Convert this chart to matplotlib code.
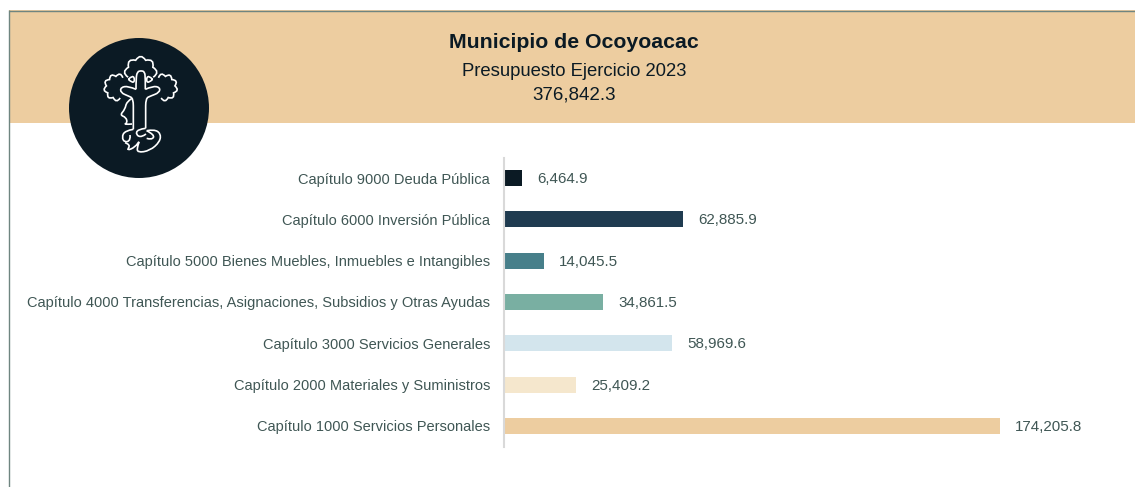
import numpy as np
import matplotlib
matplotlib.use("Agg")
import matplotlib.pyplot as plt
from matplotlib.patches import Circle, Rectangle, PathPatch
from matplotlib.path import Path

plt.rcParams['font.family'] = ['Liberation Sans', 'DejaVu Sans']

W, H = 1135, 487

# data, top row first
categories = ["Capítulo 9000 Deuda Pública", "Capítulo 6000 Inversión Pública",
              "Capítulo 5000 Bienes Muebles, Inmuebles e Intangibles",
              "Capítulo 4000 Transferencias, Asignaciones, Subsidios y Otras Ayudas",
              "Capítulo 3000 Servicios Generales", "Capítulo 2000 Materiales y Suministros",
              "Capítulo 1000 Servicios Personales"]
values = [6464.9, 62885.9, 14045.5, 34861.5, 58969.6, 25409.2, 174205.8]
bar_colors = ["#0B1A24", "#1F3B50", "#477F8A", "#79AFA2", "#D3E5ED", "#F5E7CD", "#EDCDA0"]

title = "Municipio de Ocoyoacac"
subtitle = "Presupuesto Ejercicio 2023"
total = "376,842.3"

BAND = "#EDCDA0"
DARK = "#0B1A24"
TXT = "#3F5654"

fig = plt.figure(figsize=(W/100, H/100), dpi=100)

# background layer in pixel coords
bg = fig.add_axes([0, 0, 1, 1])
bg.set_xlim(0, W)
bg.set_ylim(H, 0)
bg.axis("off")
bg.add_patch(Rectangle((9, 10), W-9, 113, fc=BAND, ec="none"))
bg.plot([8.5, 8.5], [10, H], color="#6F8580", lw=1.0, solid_capstyle="butt")
bg.plot([8.5, W], [10.5, 10.5], color="#6F8580", lw=1.0, solid_capstyle="butt")
bg.text(574, 43, title, ha="center", va="center", fontsize=15.3, fontweight="bold", color=DARK)
bg.text(574, 71, subtitle, ha="center", va="center", fontsize=13.35, color=DARK)
bg.text(574, 95, total, ha="center", va="center", fontsize=13.5, color=DARK)

# logo
bg.add_patch(Circle((139, 108), 70, fc=DARK, ec="none", zorder=3))


def smooth(pts):
    pts = [(x/3, y/3) for x, y in pts]
    verts = [pts[0]]
    codes = [Path.MOVETO]
    for i in range(1, len(pts)-1):
        mid = ((pts[i][0]+pts[i+1][0])/2, (pts[i][1]+pts[i+1][1])/2)
        if i == len(pts)-2:
            mid = pts[-1]
        verts += [pts[i], mid]
        codes += [Path.CURVE3, Path.CURVE3]
    return Path(verts, codes)


def crown(cx, cy, r, a0, a1, n):
    # scalloped tree crown, one bump per step
    ang = np.radians(np.linspace(a0, a1, n+1))
    verts = [(cx/3+r/3*np.cos(ang[0]), cy/3-r/3*np.sin(ang[0]))]
    codes = [Path.MOVETO]
    for a, b in zip(ang[:-1], ang[1:]):
        m = (a+b)/2
        verts.append((cx/3+1.5*r/3*np.cos(m), cy/3-1.5*r/3*np.sin(m)))
        verts.append((cx/3+r/3*np.cos(b), cy/3-r/3*np.sin(b)))
        codes += [Path.CURVE3, Path.CURVE3]
    return Path(verts, codes)


logo_paths = [
    crown(422, 218, 40, 200, -20, 5),
    crown(352, 262, 33, 60, 285, 6),
    crown(492, 262, 33, 120, -105, 6),
]
logo_lines = [
    # spire and branches
    [(408, 268), (408, 235), (412, 215), (423, 212), (434, 215), (436, 235), (436, 268)],
    [(408, 268), (385, 258), (362, 262), (362, 278), (385, 288), (400, 295), (400, 340), (400, 388)],
    [(436, 268), (458, 258), (480, 262), (478, 278), (452, 288), (437, 295), (437, 340), (437, 385)],
    # inner leaves
    [(385, 238), (398, 225), (405, 240), (398, 250), (385, 238)],
    [(458, 238), (445, 225), (438, 240), (445, 250), (458, 238)],
    # face
    [(396, 295), (380, 305), (375, 328), (360, 345), (378, 352), (382, 368), (372, 374), (396, 372)],
    # roots
    [(400, 388), (375, 392), (365, 412), (375, 428), (392, 420), (390, 405)],
    [(375, 428), (392, 434), (380, 452), (405, 442), (420, 420), (412, 440), (412, 458),
     (450, 452), (480, 425), (482, 400), (462, 388), (440, 392)],
    [(437, 385), (412, 388), (408, 405), (425, 412), (438, 402)],
    [(440, 392), (465, 405), (455, 420), (440, 415)],
]
logo_paths += [smooth(p) for p in logo_lines]
for path in logo_paths:
    bg.add_patch(PathPatch(path, fc="none", ec="white", lw=1.2, zorder=4))

# bars
ax = fig.add_axes([504/W, 1-446.5/H, (W-504)/W, 289/H])
pos = list(range(len(categories)))
ax.barh(pos, values, height=0.39, color=bar_colors)
ax.set_ylim(len(categories)-0.5, -0.5)
ax.set_xlim(0, (W-504)/496*values[-1])
ax.patch.set_alpha(0)
for s in ["top", "right", "bottom"]:
    ax.spines[s].set_visible(False)
ax.spines["left"].set_color("#D9D9D9")
ax.spines["left"].set_linewidth(1.5)
ax.set_xticks([])
ax.set_yticks(pos)
ax.set_yticklabels(categories, fontsize=10.5, color=TXT)
ax.tick_params(axis="y", length=0, pad=10)
for p, v in zip(pos, values):
    ax.annotate(f"{v:,.1f}", (v, p), xytext=(15, -1), textcoords="offset pixels",
                va="center", ha="left", fontsize=10.9, color=TXT)

fig.savefig("out.png", dpi=100)
